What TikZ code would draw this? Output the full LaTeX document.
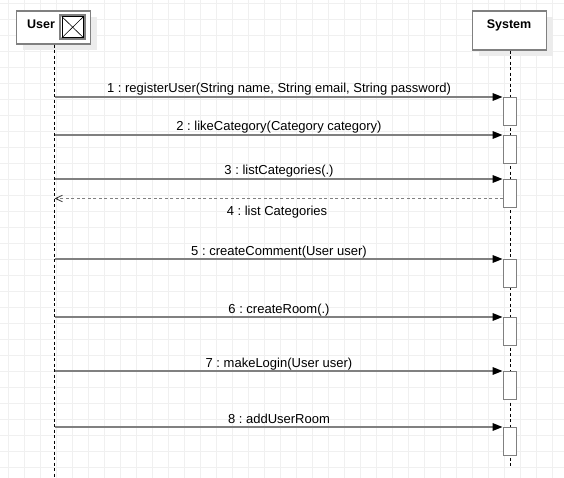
\documentclass[tikz,border=0pt]{standalone}
\usepackage{fontspec}
\setmainfont{Liberation Sans}
\usetikzlibrary{arrows.meta,shapes,shadows,positioning}
\definecolor{gray@UML}{RGB}{128, 128, 128}
\definecolor{grid@UML}{RGB}{240, 240, 240}
\definecolor{shadow@UML}{RGB}{236, 236, 236}

\begin{document}
\begin{tikzpicture}[x=1pt, y=-1pt, font=\fontsize{13}{15}\selectfont\frenchspacing]
  \tikzstyle{lifebox}=[draw=gray@UML, line width=1.3pt, fill=white, rectangle,
                                minimum width=74pt, inner sep=0pt,
                                drop shadow={shadow xshift=6pt, shadow yshift=-6pt, fill=shadow@UML, opacity=1}]
  \tikzstyle{activation}=[draw=gray@UML, line width=1.3pt, fill=white, rectangle,
                                minimum width=13.5pt, minimum height=28pt, inner sep=0pt]
  \tikzstyle{head_label}=[font=\fontsize{12.5}{14}\selectfont\bfseries, anchor=base, inner sep=0pt]
  \tikzstyle{msg_label}=[anchor=base, inner sep=0pt]
  \tikzstyle{lifeline} = [draw, black, dash pattern=on 3pt off 2.5pt, line width=0.9pt]
  \tikzstyle{call_edge} = [draw, -{Triangle[length=10pt, width=7.5pt, color=black]}, gray@UML, line width=1.5pt]
  \tikzstyle{reply_edge} = [draw, -{Straight Barb[length=7pt, width=6.5pt, line width=0.8pt, color=black!80]}, gray@UML,
                                dash pattern=on 3pt off 2.5pt, line width=1.3pt]
  \tikzstyle{gridline}=[draw=grid@UML, line width=0.9pt]

  % constants
  \def \UserX {54.5}
  \def \SysX {510}
  \def \MidX {279}

  \useasboundingbox (0,0) rectangle (564,478);

  % background grid
  \foreach \gx in {8,24,...,552}
    \draw[gridline] (\gx,0) -- (\gx,478);
  \foreach \gy in {3.5,19.5,...,467.5}
    \draw[gridline] (0,\gy) -- (564,\gy);

  % Draw the participants
  \node[lifebox, minimum height=33pt] (user) at (53.5,27.5) {};
  \node[lifebox, minimum height=39pt] (system) at (509.5,30.5) {};
  \node[head_label] (userlabel) at (41,28.5) {User};
  \node[head_label] (systemlabel) at (509,28.5) {System};

  \node[draw=gray@UML, line width=2pt, minimum width=25pt, minimum height=24.5pt, inner sep=0pt] (usericon) at (72.7,27.2) {};
  \node[draw=black, line width=0.5pt, minimum width=21.5pt, minimum height=21pt, inner sep=0pt] (usericonin) at (72.7,27.2) {};
  \draw[black, line width=0.6pt] (usericonin.north west) -- (usericonin.south east);
  \draw[black, line width=0.6pt] (usericonin.south west) -- (usericonin.north east);

  % lifelines
  \coordinate (userEnd) at (\UserX,478);
  \coordinate (sysEnd) at (\SysX,468);
  \path[lifeline] (user.south -| userEnd) -- (userEnd);
  \path[lifeline] (system.south -| sysEnd) -- (sysEnd);

  % Connect lifelines with messages
  \foreach \idx/\ypos/\msg in
    {
      1/97/{registerUser(String name, String email, String password)},
      2/135/{likeCategory(Category category)},
      3/179/{listCategories(.)},
      5/259/{createComment(User user)},
      6/317/{createRoom(.)},
      7/371/{makeLogin(User user)},
      8/427/{addUserRoom}%
    }
    {
      \coordinate (u\idx) at (\UserX,\ypos);
      \node[activation, anchor=north] (act\idx) at (\SysX,\ypos) {};
      \path[call_edge] (u\idx) -- (act\idx.north west);
      \node[msg_label] (m\idx) at (\MidX,\ypos-4) {\idx\ : \msg};
    }

  % reply
  \coordinate (ret4) at (503.25,198.5);
  \coordinate (u4) at (\UserX,198.5);
  \path[reply_edge] (ret4) -- (u4);
  \node[msg_label] (m4) at (277,215) {4 : list Categories};

\end{tikzpicture}
\end{document}
